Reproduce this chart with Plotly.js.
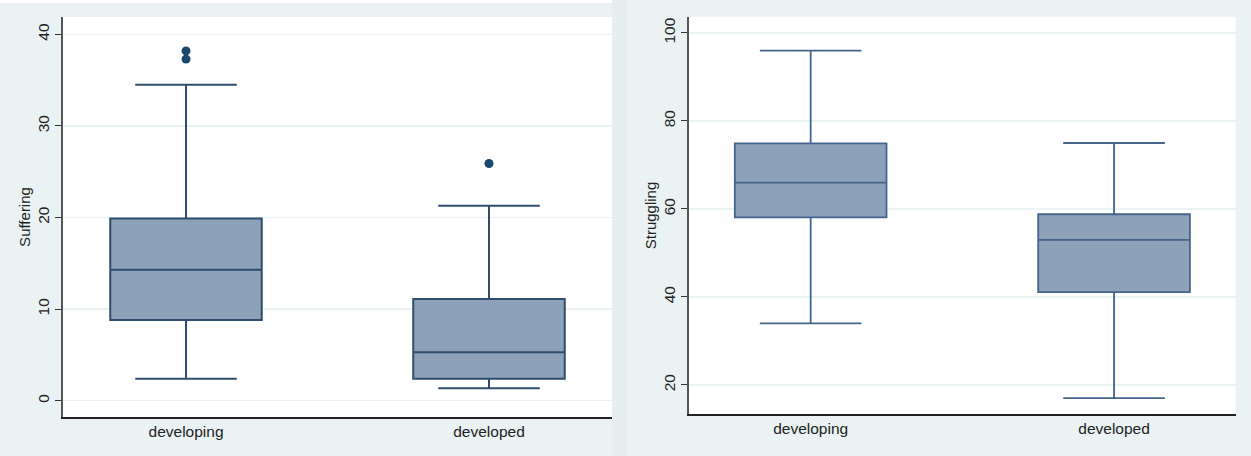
<!DOCTYPE html>
<html>
<head>
<meta charset="utf-8">
<script src="https://cdn.plot.ly/plotly-3.0.1.min.js"></script>
<style>
  html, body { margin: 0; padding: 0; background: #EAF2F3; }
  #chart { width: 1251px; height: 456px; }
</style>
</head>
<body>
<div id="chart"></div>
<script>
// Categories
const categories = ["developing", "developed"];

// Suffering (left panel) box statistics
const suffQ1 = [8.8, 2.4];
const suffMedian = [14.3, 5.3];
const suffQ3 = [19.9, 11.1];
const suffLower = [2.4, 1.35];
const suffUpper = [34.5, 21.3];
const suffOutlierCats = ["developing", "developing", "developed"];
const suffOutlierVals = [37.3, 38.2, 25.9];

// Struggling (right panel) box statistics
const strugQ1 = [58.1, 41.1];
const strugMedian = [66.0, 53.0];
const strugQ3 = [74.9, 58.8];
const strugLower = [34.0, 17.0];
const strugUpper = [96.0, 75.0];

// Tick values
const suffTicks = [0, 10, 20, 30, 40];
const strugTicks = [20, 40, 60, 80, 100];

const W = 1251, H = 456;
const fill = "#8DA2B8";
const lineLeft = "#2F4C6C";
const lineRight = "#44648A";
const fontFam = "Liberation Sans, Arial, sans-serif";

function boxTrace(stats, xa, ya, lineColor, lw) {
  return {
    type: "box",
    x: categories,
    q1: stats.q1, median: stats.median, q3: stats.q3,
    lowerfence: stats.lo, upperfence: stats.hi,
    xaxis: xa, yaxis: ya,
    width: 0.5,
    whiskerwidth: 0.67,
    fillcolor: fill,
    line: { color: lineColor, width: lw },
    boxpoints: false,
    hoverinfo: "skip",
    showlegend: false
  };
}

const data = [
  boxTrace({ q1: suffQ1, median: suffMedian, q3: suffQ3, lo: suffLower, hi: suffUpper }, "x", "y", lineLeft, 2),
  {
    type: "scatter", mode: "markers",
    x: suffOutlierCats, y: suffOutlierVals,
    xaxis: "x", yaxis: "y",
    marker: { color: "#1A476F", size: 9 },
    showlegend: false, hoverinfo: "skip"
  },
  boxTrace({ q1: strugQ1, median: strugMedian, q3: strugQ3, lo: strugLower, hi: strugUpper }, "x2", "y2", lineRight, 1.8)
];

const tickFont = { family: fontFam, size: 15.5, color: "#222" };

function yAxis(domain, range, ticks, title, anchor) {
  return {
    domain: domain,
    range: range,
    anchor: anchor,
    tickmode: "array",
    tickvals: ticks,
    ticktext: ticks.map(String),
    tickangle: -90,
    ticks: "outside",
    ticklen: 6,
    tickwidth: 1,
    tickcolor: "#333",
    tickfont: tickFont,
    showgrid: true,
    gridcolor: "#EAF2F3",
    gridwidth: 1.5,
    zeroline: false,
    showline: true,
    linecolor: "#555",
    linewidth: 2,
    automargin: false,
    title: { text: title, font: { family: fontFam, size: 15, color: "#222" }, standoff: 1 }
  };
}

function xAxis(domain, range, anchor) {
  return {
    domain: domain,
    range: range,
    anchor: anchor,
    type: "category",
    categoryorder: "array",
    categoryarray: categories,
    ticks: "",
    tickfont: tickFont,
    showgrid: false,
    zeroline: false,
    showline: true,
    linecolor: "#222",
    linewidth: 1.5,
    automargin: false
  };
}

const layout = {
  width: W, height: H,
  margin: { l: 0, r: 0, t: 0, b: 0, pad: 0 },
  paper_bgcolor: "#EAF2F3",
  plot_bgcolor: "#FFFFFF",
  xaxis: xAxis([63 / W, 612 / W], [-0.406, 1.406], "y"),
  yaxis: yAxis([(H - 417) / H, (H - 17) / H], [-1.78, 41.9], suffTicks, "Suffering", "x"),
  xaxis2: xAxis([689 / W, 1235.7 / W], [-0.401, 1.401], "y2"),
  yaxis2: yAxis([(H - 414.3) / H, (H - 16.7) / H], [13.34, 103.7], strugTicks, "Struggling", "x2"),
  shapes: [
    { type: "rect", xref: "paper", yref: "paper", x0: 0, x1: 627 / W, y0: (H - 3) / H, y1: 1,
      fillcolor: "#FFFFFF", line: { width: 0 }, layer: "below" },
    { type: "rect", xref: "paper", yref: "paper", x0: 612 / W, x1: 627 / W, y0: 0, y1: 1,
      fillcolor: "#E6EEF0", line: { width: 0 }, layer: "below" }
  ]
};

Plotly.newPlot("chart", data, layout, { displayModeBar: false, staticPlot: true });
</script>
</body>
</html>
